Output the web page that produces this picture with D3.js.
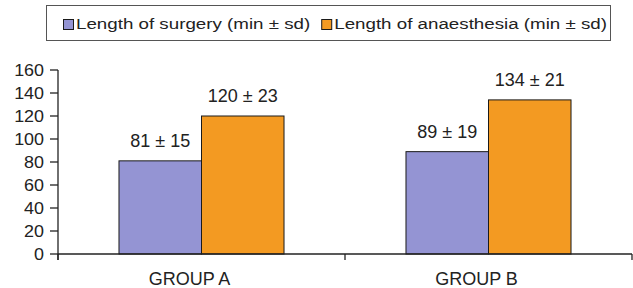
<!DOCTYPE html>
<html>
<head>
<meta charset="utf-8">
<script src="https://cdn.jsdelivr.net/npm/d3@7"></script>
<style>
  body { margin: 0; background: #fff; }
  svg { display: block; font-family: "Liberation Sans", Arial, sans-serif; }
</style>
</head>
<body>
<svg id="chart"></svg>
<script>
const width = 633;
const height = 288;

// data
const groups = ["GROUP A", "GROUP B"];
const seriesNames = ["Length of surgery (min ± sd)", "Length of anaesthesia (min ± sd)"];
const seriesColors = ["#9494d3", "#f39a22"];
const surgeryMean = [81, 89];
const surgerySd = [15, 19];
const anaesthesiaMean = [120, 134];
const anaesthesiaSd = [23, 21];
const yTicks = [0, 20, 40, 60, 80, 100, 120, 140, 160];

const means = [surgeryMean, anaesthesiaMean];
const sds = [surgerySd, anaesthesiaSd];

const svg = d3.select("#chart")
    .attr("width", width)
    .attr("height", height);

const x = d3.scaleBand()
    .domain(groups)
    .range([58, 632])
    .paddingInner(0.425)
    .paddingOuter(0.2125);

const xSeries = d3.scaleBand()
    .domain(d3.range(seriesNames.length))
    .range([0, x.bandwidth()]);

const y = d3.scaleLinear()
    .domain([0, 160])
    .range([254, 70]);

// bars
const bars = [];
groups.forEach((g, gi) => {
    seriesNames.forEach((s, si) => {
        bars.push({ group: g, series: si, value: means[si][gi], sd: sds[si][gi] });
    });
});

svg.append("g")
    .selectAll("rect")
    .data(bars)
    .join("rect")
    .attr("x", d => x(d.group) + xSeries(d.series))
    .attr("y", d => y(d.value))
    .attr("width", xSeries.bandwidth())
    .attr("height", d => y(0) - y(d.value))
    .attr("fill", d => seriesColors[d.series])
    .attr("stroke", "#1a1a1a")
    .attr("stroke-width", 1);

// value labels above bars
svg.append("g")
    .selectAll("text")
    .data(bars)
    .join("text")
    .attr("x", d => x(d.group) + xSeries(d.series) + xSeries.bandwidth() / 2)
    .attr("y", d => y(d.value) - 14)
    .attr("text-anchor", "middle")
    .attr("font-size", 18)
    .attr("fill", "#222")
    .text(d => `${d.value} ± ${d.sd}`);

// y axis
const yAxis = svg.append("g").attr("transform", "translate(58,0)");
yAxis.append("line")
    .attr("y1", y(160)).attr("y2", 260)
    .attr("stroke", "#222").attr("stroke-width", 1.3);
yAxis.selectAll(".tick")
    .data(yTicks)
    .join("line")
    .attr("class", "tick")
    .attr("x1", -8).attr("x2", 0)
    .attr("y1", d => y(d)).attr("y2", d => y(d))
    .attr("stroke", "#222").attr("stroke-width", 1.3);
yAxis.selectAll(".lbl")
    .data(yTicks)
    .join("text")
    .attr("class", "lbl")
    .attr("transform", d => `translate(-14,${y(d) + 5.5}) scale(1.12,1)`)
    .attr("text-anchor", "end")
    .attr("font-size", 16)
    .attr("fill", "#222")
    .text(d => d);

// x axis
const xAxis = svg.append("g");
xAxis.append("line")
    .attr("x1", x.range()[0]).attr("x2", x.range()[1])
    .attr("y1", y(0)).attr("y2", y(0))
    .attr("stroke", "#222").attr("stroke-width", 1.3);
const boundaries = [x.range()[0]].concat(groups.map(g => x(g) + x.bandwidth() + x.step() * x.paddingInner() / 2).slice(0, -1), [x.range()[1]]);
xAxis.selectAll(".xt")
    .data(boundaries)
    .join("line")
    .attr("class", "xt")
    .attr("x1", d => d).attr("x2", d => d)
    .attr("y1", y(0)).attr("y2", y(0) + 6)
    .attr("stroke", "#222").attr("stroke-width", 1.3);
xAxis.selectAll(".xl")
    .data(groups)
    .join("text")
    .attr("class", "xl")
    .attr("x", d => x(d) + x.bandwidth() / 2 - 12)
    .attr("y", 285)
    .attr("text-anchor", "middle")
    .attr("font-size", 18)
    .attr("fill", "#222")
    .text(d => d);

// legend
const legend = svg.append("g");
legend.append("rect")
    .attr("x", 46.5).attr("y", 5.5)
    .attr("width", 564).attr("height", 35)
    .attr("fill", "#fff")
    .attr("stroke", "#555").attr("stroke-width", 1);

let lx = 63;
seriesNames.forEach((name, i) => {
    legend.append("rect")
        .attr("x", lx + 0.5).attr("y", 19.5)
        .attr("width", 10).attr("height", 10)
        .attr("fill", seriesColors[i])
        .attr("stroke", "#1a1a1a").attr("stroke-width", 1);
    const t = legend.append("text")
        .attr("transform", `translate(${lx + 13},28.5) scale(1.25,1)`)
        .attr("font-size", 15)
        .attr("fill", "#222")
        .text(name);
    lx += 13 + t.node().getComputedTextLength() * 1.25 + 11;
});
</script>
</body>
</html>
